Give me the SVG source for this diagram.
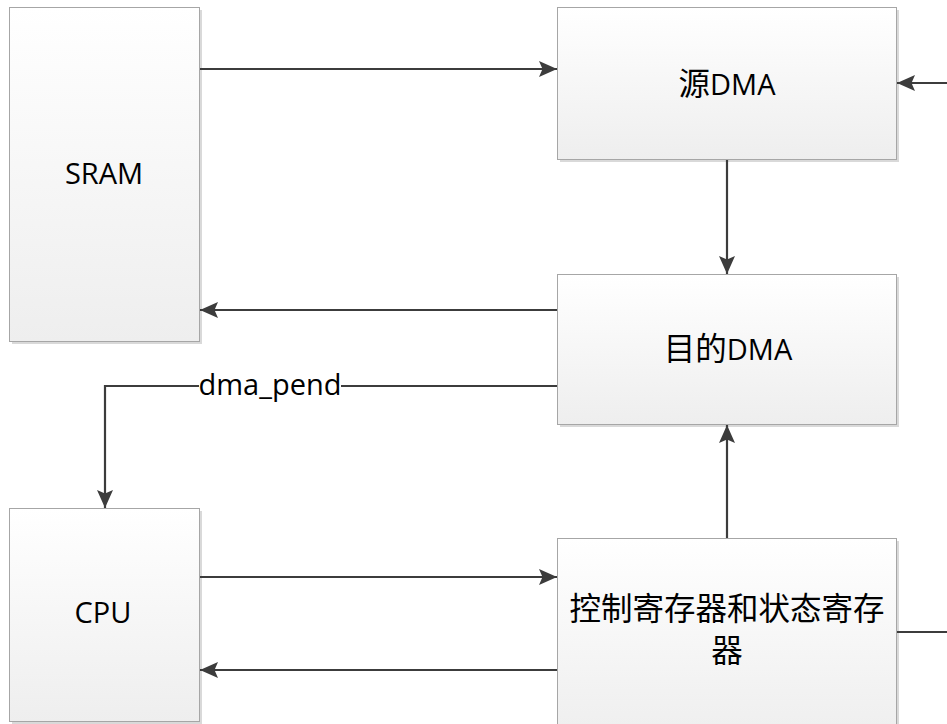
<svg xmlns="http://www.w3.org/2000/svg" width="947" height="724" viewBox="0 0 947 724">
<style>
.box{fill:url(#g);stroke:#a6a6a6;stroke-width:1}
.sh{fill:#d9d9d9}
.lbl{font-family:"Open Sans","Noto Sans","Noto Sans CJK SC",sans-serif;font-size:29px;fill:#000;text-anchor:middle}
.cjk{font-family:"Noto Sans CJK SC",sans-serif;font-size:31.5px}
.ln{fill:none;stroke:#3c3c3c;stroke-width:2.2}
</style>
<defs>
<linearGradient id="g" x1="0" y1="0" x2="0" y2="1">
<stop offset="0" stop-color="#ffffff"/>
<stop offset="1" stop-color="#eeeeee"/>
</linearGradient>
<marker id="ah" markerUnits="userSpaceOnUse" markerWidth="19" markerHeight="17" refX="18" refY="8" orient="auto" viewBox="0 0 19 17">
<path d="M0,0 L18,8 L0,16 L3.5,8 Z" fill="#3c3c3c"/>
</marker>
</defs>
<rect width="947" height="724" fill="#fff"/>
<g id="sram">
<rect class="sh" x="12" y="10" width="190" height="334"/>
<rect class="box" x="9.5" y="7.5" width="190" height="334"/>
<text class="lbl" x="104" y="184">SRAM</text>
</g>
<g id="src-dma">
<rect class="sh" x="560" y="10" width="339" height="152"/>
<rect class="box" x="557.5" y="7.5" width="339" height="152"/>
<text class="lbl" x="727" y="95"><tspan class="cjk">源</tspan>DMA</text>
</g>
<g id="dst-dma">
<rect class="sh" x="560" y="277" width="339" height="150"/>
<rect class="box" x="557.5" y="274.5" width="339" height="150"/>
<text class="lbl" x="728" y="360"><tspan class="cjk">目的</tspan>DMA</text>
</g>
<g id="cpu">
<rect class="sh" x="12" y="511" width="190" height="213"/>
<rect class="box" x="9.5" y="508.5" width="190" height="213"/>
<text class="lbl" x="103" y="623">CPU</text>
</g>
<g id="ctrl">
<rect class="sh" x="560" y="541" width="339" height="200"/>
<rect class="box" x="557.5" y="538.5" width="339" height="200"/>
<text class="lbl cjk" x="727" y="620">控制寄存器和状态寄存</text>
<text class="lbl cjk" x="727" y="662">器</text>
</g>
<g id="connectors">
<line class="ln" x1="200" y1="69" x2="557" y2="69" marker-end="url(#ah)"/>
<line class="ln" x1="947" y1="83" x2="897" y2="83" marker-end="url(#ah)"/>
<line class="ln" x1="727" y1="160" x2="727" y2="274" marker-end="url(#ah)"/>
<line class="ln" x1="557" y1="310" x2="200" y2="310" marker-end="url(#ah)"/>
<path class="ln" d="M557,386 H105 V508" marker-end="url(#ah)"/>
<rect x="199" y="372" width="142" height="30" fill="#fff"/>
<text class="lbl" x="270" y="395">dma_pend</text>
<line class="ln" x1="200" y1="577" x2="557" y2="577" marker-end="url(#ah)"/>
<line class="ln" x1="557" y1="670" x2="200" y2="670" marker-end="url(#ah)"/>
<line class="ln" x1="727" y1="538" x2="727" y2="425" marker-end="url(#ah)"/>
<line class="ln" x1="897" y1="632" x2="947" y2="632"/>
</g>
</svg>
